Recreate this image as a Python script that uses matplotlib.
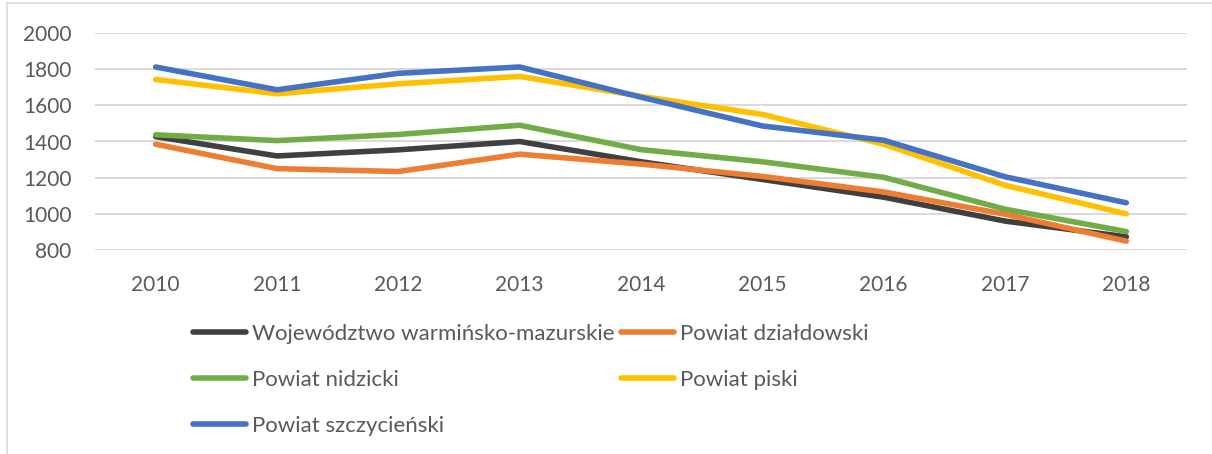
import matplotlib
matplotlib.use('Agg')
from matplotlib import pyplot as plt
from matplotlib.lines import Line2D

years = ['2010', '2011', '2012', '2013', '2014', '2015', '2016', '2017', '2018']

wojewodztwo = [1427, 1320, 1354, 1400, 1288, 1190, 1092, 960, 873]
dzialdowski = [1385, 1250, 1234, 1330, 1275, 1207, 1121, 998, 849]
nidzicki = [1437, 1405, 1439, 1490, 1355, 1288, 1202, 1026, 902]
piski = [1743, 1664, 1719, 1760, 1650, 1550, 1385, 1158, 1000]
szczycienski = [1812, 1686, 1777, 1812, 1645, 1486, 1407, 1205, 1061]

labels = ['Województwo warmińsko-mazurskie', 'Powiat działdowski',
          'Powiat nidzicki', 'Powiat piski', 'Powiat szczycieński']
colors = ['#404040', '#ED7D31', '#70AD47', '#FFC000', '#4472C4']


def main():
    plt.rcParams['font.family'] = ['Lato', 'DejaVu Sans']
    fig = plt.figure(figsize=(12.12, 4.54), dpi=100)
    ax = fig.add_axes([95 / 1212, 1 - 250 / 454, 1092 / 1212, 217 / 454])

    x = range(len(years))
    series = [wojewodztwo, dzialdowski, nidzicki, piski, szczycienski]
    handles = []
    for vals, lab, col in zip(series, labels, colors):
        h, = ax.plot(x, vals, color=col, lw=4, label=lab,
                     solid_capstyle='round', solid_joinstyle='round')
        handles.append(h)

    ax.set_xlim(-0.5, len(years) - 0.5)
    ax.set_ylim(800, 2000)
    ax.set_yticks(range(800, 2001, 200))
    ax.set_xticks(list(x))
    ax.set_xticklabels(years)
    ax.yaxis.grid(True, color='#D9D9D9', lw=1.4)
    ax.set_axisbelow(True)
    for s in ax.spines.values():
        s.set_visible(False)
    ax.tick_params(axis='both', length=0, labelsize=15, labelcolor='#595959')
    ax.tick_params(axis='y', pad=17)
    ax.tick_params(axis='x', pad=18)

    # legend is filled row by row, matplotlib fills columns
    order = [0, 2, 4, 1, 3]
    fig.legend([handles[i] for i in order], [labels[i] for i in order],
               loc='upper left', bbox_to_anchor=(193 / 1212, 1 - 324 / 454),
               ncol=2, frameon=False, fontsize=16, labelcolor='#595959',
               handlelength=2.4, handletextpad=0.25, columnspacing=0.3,
               labelspacing=1.16, borderpad=0, borderaxespad=0)

    # light frame of the chart area
    fig.add_artist(Line2D([7 / 1212, 7 / 1212], [0, 1 - 3 / 454],
                          color='#D9D9D9', lw=1.2))
    fig.add_artist(Line2D([7 / 1212, 1], [1 - 3 / 454, 1 - 3 / 454],
                          color='#D9D9D9', lw=1.2))

    fig.savefig('out.png', dpi=100)


if __name__ == '__main__':
    main()
